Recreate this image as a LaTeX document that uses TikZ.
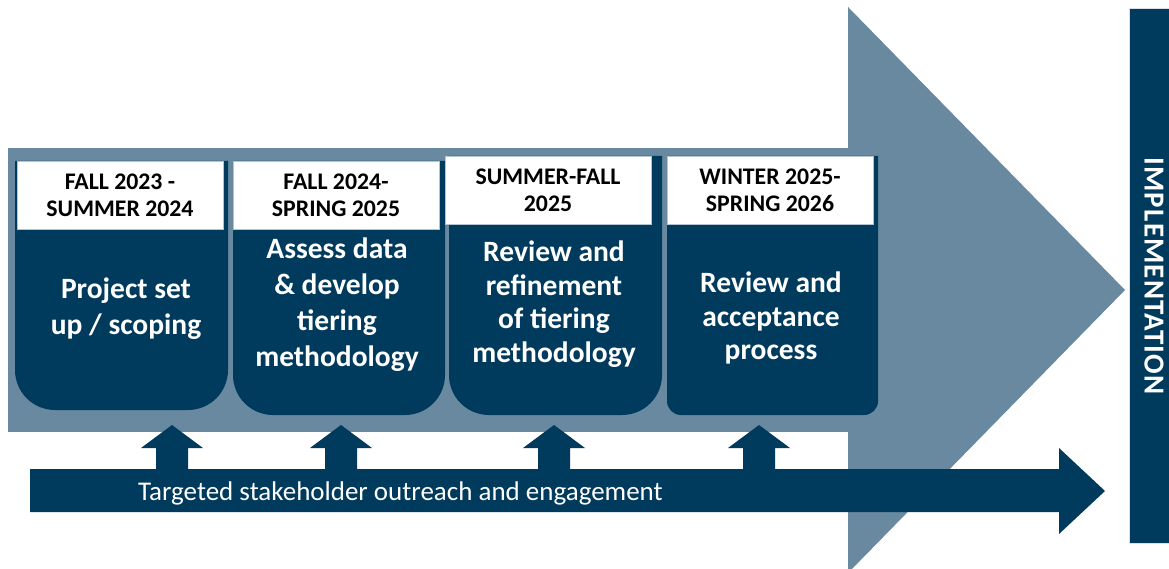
\documentclass[tikz,border=0pt]{standalone}
\usepackage{fontspec}
\setmainfont{Carlito}
\definecolor{navy}{RGB}{0,58,92}
\definecolor{slate}{RGB}{104,137,159}
\tikzset{
  period/.style={fill=white, draw=slate!50, line width=0.8pt, inner sep=0pt,
    minimum width=206pt, minimum height=68pt, align=center,
    font=\bfseries\fontsize{23.8}{27}\selectfont},
  phase/.style={text=white, align=center, font=\bfseries\fontsize{29.5}{36}\selectfont},
  phasesmall/.style={phase, font=\bfseries\fontsize{29.5}{33.5}\selectfont},
}

\begin{document}
\begin{tikzpicture}[x=1pt, y=-1pt]
  \useasboundingbox (0,0) rectangle (1169,569);
  \clip (0,0) rectangle (1169,569);
  % big timeline arrow
  \fill[slate] (8,148) rectangle (848,432);
  \fill[slate] (848,7) -- (1125,290) -- (848,573) -- cycle;

  % phase bodies
  \fill[navy] (15,161) -- (228,161) {[rounded corners=40pt] -- (228,410) -- (15,410)} -- cycle;
  \fill[navy] (233,161) -- (445,161) {[rounded corners=40pt] -- (445,415) -- (233,415)} -- cycle;
  \fill[navy] (449,156) -- (662,156) {[rounded corners=40pt] -- (662,415) -- (449,415)} -- cycle;
  \fill[navy] (667,156) -- (878,156) {[rounded corners=14pt] -- (878,415) -- (667,415)} -- cycle;

  % period headers
  \node[period] (hdr1) at (120,195) {FALL 2023 -\\SUMMER 2024};
  \node[period] (hdr2) at (336,195) {FALL 2024-\\SPRING 2025};
  \node[period] (hdr3) at (548,190.5) {SUMMER-FALL\\2025};
  \node[period] (hdr4) at (770,190.5) {WINTER 2025-\\SPRING 2026};

  % phase texts
  \node[phase] (ph1) at (126,309) {Project set\\up / scoping};
  \node[phase] (ph2) at (337,305) {Assess data\\\& develop\\tiering\\methodology};
  \node[phasesmall] (ph3) at (554,304) {Review and\\refinement\\of tiering\\methodology};
  \node[phasesmall] (ph4) at (771,318) {Review and\\acceptance\\process};

  % engagement arrows
  \fill[navy] (156,471) -- (156,448) -- (141,448) -- (172,425) -- (203,448) -- (188,448) -- (188,471) -- cycle;
  \fill[navy] (325,471) -- (325,448) -- (310,448) -- (341,425) -- (372,448) -- (357,448) -- (357,471) -- cycle;
  \fill[navy] (538,471) -- (538,448) -- (523,448) -- (554,425) -- (585,448) -- (570,448) -- (570,471) -- cycle;
  \fill[navy] (743,471) -- (743,448) -- (728,448) -- (759,425) -- (790,448) -- (775,448) -- (775,471) -- cycle;
  \fill[navy] (30,469) -- (1059,469) -- (1059,448) -- (1105,491) -- (1059,534) -- (1059,512) -- (30,512) -- cycle;
  \node[anchor=base west, text=white, font=\fontsize{27}{30}\selectfont, inner sep=0pt] (outreach) at (138,500)
    {Targeted stakeholder outreach and engagement};

  % implementation
  \fill[navy, draw=slate!25, line width=1pt] (1129,9) rectangle (1185,543);
  \node[rotate=-90, text=white, font=\bfseries\fontsize{29}{32}\selectfont\addfontfeatures{LetterSpace=4}] (impl) at (1154,276) {IMPLEMENTATION};
\end{tikzpicture}
\end{document}
